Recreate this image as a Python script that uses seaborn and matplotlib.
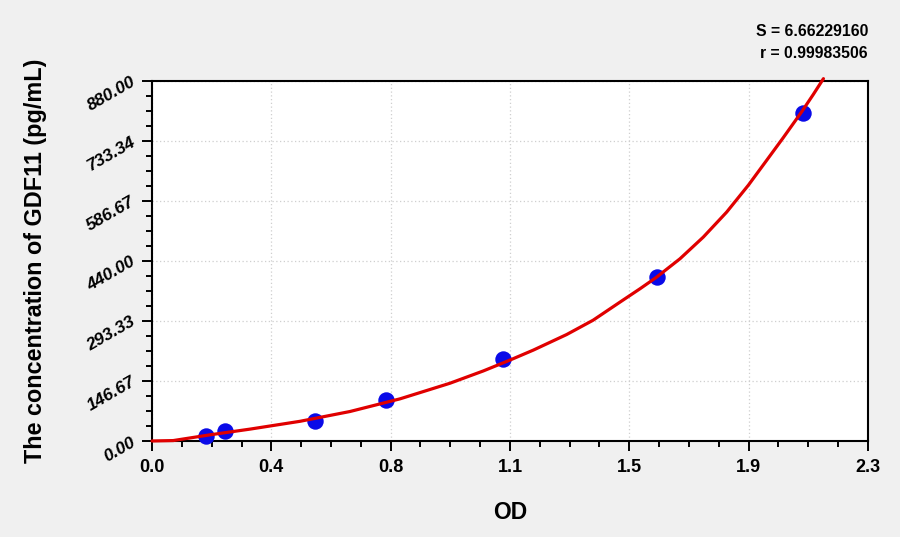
import numpy as np
import matplotlib
matplotlib.use("Agg")
import matplotlib.pyplot as plt
from matplotlib.ticker import AutoMinorLocator
import seaborn as sns

# standards (OD vs concentration)
od_points = [0.173, 0.233, 0.524, 0.753, 1.128, 1.623, 2.090]
conc_points = [12.5, 25, 50, 100, 200, 400, 800]

# fitted curve
curve_od = [0.000, 0.068, 0.186, 0.315, 0.475, 0.636, 0.797, 0.957, 1.064, 1.148,
            1.225, 1.332, 1.417, 1.503, 1.568, 1.619, 1.696, 1.771, 1.846, 1.916,
            1.975, 2.028, 2.087, 2.124, 2.157]
curve_conc = [0, 1, 15, 29, 48, 72, 103, 141, 171, 197,
              222, 260, 295, 339, 372, 399, 445, 498, 559, 625,
              686, 741, 804, 846, 885]

x_labels = ['0.0', '0.4', '0.8', '1.1', '1.5', '1.9', '2.3']
y_labels = ['0.00', '146.67', '293.33', '440.00', '586.67', '733.34', '880.00']
x_max = 2.3
y_max = 880.0

s_text = 'S = 6.66229160'
r_text = 'r = 0.99983506'

sns.set_style('white')
plt.rcParams['font.family'] = ['Liberation Sans', 'DejaVu Sans']
plt.rcParams['text.color'] = 'black'
plt.rcParams['axes.labelcolor'] = 'black'
plt.rcParams['xtick.color'] = 'black'
plt.rcParams['ytick.color'] = 'black'

fig = plt.figure(figsize=(9, 5.37), dpi=100, facecolor='#f0f0f0')
ax = fig.add_axes([0.1689, 0.1788, 0.7955, 0.6709])
ax.set_facecolor('white')

sns.scatterplot(x=od_points, y=conc_points, ax=ax, s=140, color='#0a0ae8',
                edgecolor='#0a0ae8', linewidth=0, zorder=3, clip_on=False)
sns.lineplot(x=curve_od, y=curve_conc, ax=ax, color='#e00000', linewidth=2.3,
             zorder=4, sort=True, estimator=None)
for ln in ax.lines:
    ln.set_clip_on(False)
    ln.set_solid_joinstyle('round')

ax.set_xlim(0, x_max)
ax.set_ylim(0, y_max)
ax.set_xticks(np.linspace(0, x_max, len(x_labels)))
ax.set_xticklabels(x_labels)
ax.set_yticks(np.linspace(0, y_max, len(y_labels)))
ax.set_yticklabels(y_labels)
ax.xaxis.set_minor_locator(AutoMinorLocator(4))
ax.yaxis.set_minor_locator(AutoMinorLocator(4))

ax.grid(True, which='major', color='#cfcfcf', linestyle=(0, (1, 2)), linewidth=0.9)
ax.set_axisbelow(True)

for sp in ax.spines.values():
    sp.set_color('black')
    sp.set_linewidth(1.5)
    sp.set_visible(True)

ax.tick_params(axis='both', which='major', direction='out', length=7, width=1.4,
               color='black', bottom=True, left=True)
ax.tick_params(axis='both', which='minor', direction='out', length=4.5, width=1.4,
               color='black', bottom=True, left=True)
ax.tick_params(axis='x', which='major', pad=6)
ax.tick_params(axis='y', which='major', pad=6)

for lab in ax.get_xticklabels():
    lab.set_fontsize(13)
    lab.set_fontweight('bold')
    lab.set_color('black')
for lab in ax.get_yticklabels():
    lab.set_fontsize(12.5)
    lab.set_fontweight('bold')
    lab.set_fontstyle('italic')
    lab.set_rotation(30)
    lab.set_ha('right')
    lab.set_va('center')
    lab.set_rotation_mode('anchor')
    lab.set_color('black')

ax.set_xlabel('OD', fontsize=16.5, fontweight='bold', labelpad=18, color='black')
ax.set_ylabel('The concentration of GDF11 (pg/mL)', fontsize=16.8, fontweight='bold',
              color='black', va='center')
ax.yaxis.set_label_coords(-0.163, 0.5)

fig.text(0.9644, 0.941, s_text, ha='right', va='center', fontsize=11.3, fontweight='bold')
fig.text(0.9644, 0.900, r_text, ha='right', va='center', fontsize=11.3, fontweight='bold')

fig.savefig('out.png', dpi=100, facecolor=fig.get_facecolor())
